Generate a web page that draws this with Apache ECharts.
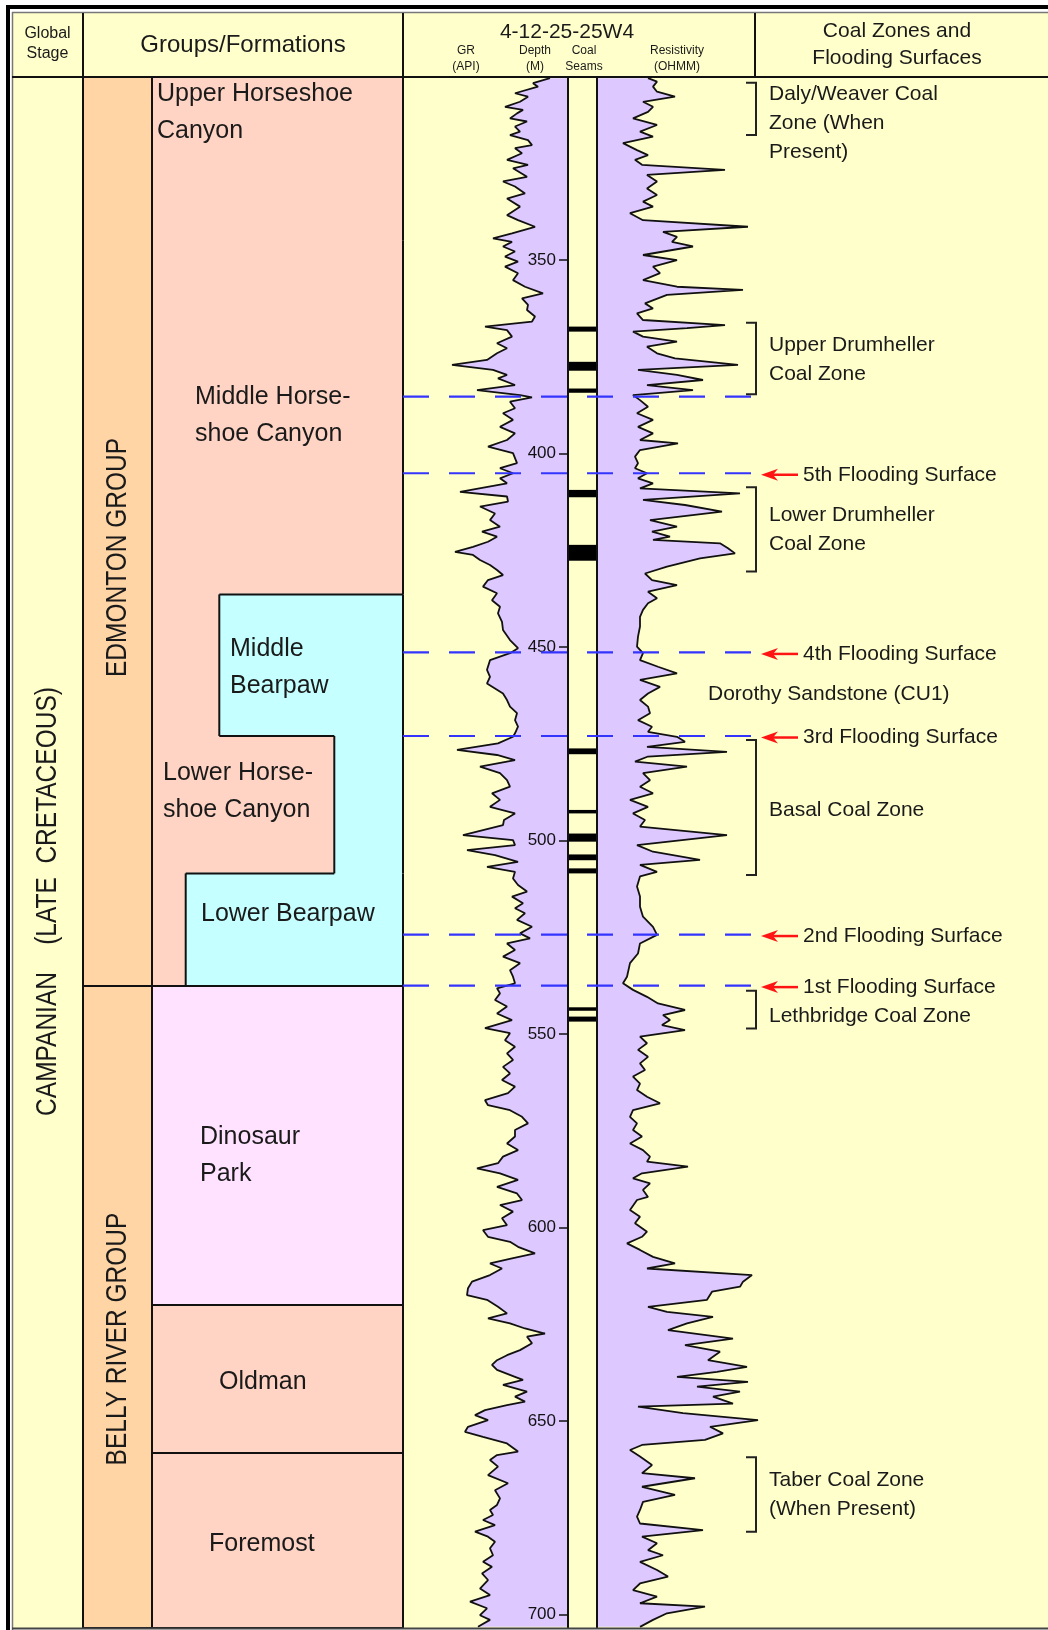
<!DOCTYPE html>
<html>
<head>
<meta charset="utf-8">
<script src="https://cdn.jsdelivr.net/npm/echarts/dist/echarts.min.js"></script>
<style>html,body{margin:0;padding:0;background:#fff}#c{width:1048px;height:1630px}</style>
</head>
<body>
<div id="c"></div>
<script>
// ================= DATA =================
const depthTicks = [350, 400, 450, 500, 550, 600, 650, 700];
const depthRange = [302.7, 703.5];

// Gamma ray log: [depth m, GR API]
const grLog = [
[303.0,147],[304.3,130],[305.2,135],[306.9,112],[307.8,125],[309.1,117],[310.4,102],[311.2,120],[312.1,114],[313.4,107],
[314.2,124],[315.5,112],[316.8,117],[317.7,107],[319.0,125],[320.3,129],[321.1,112],[322.4,119],[324.1,104],[325.4,125],
[326.3,110],[328.5,124],[329.7,100],[331.0,112],[332.8,122],[334.1,104],[336.2,117],[338.4,104],[339.7,115],[341.4,132],
[343.1,109],[344.4,90],[345.3,109],[346.5,100],[347.8,112],[349.1,102],[350.4,115],[351.7,102],[353.4,115],[355.2,110],
[356.9,122],[358.6,140],[359.9,119],[361.6,125],[362.9,124],[364.6,132],[365.9,129],[367.2,82],[368.1,104],[369.8,109],
[371.5,94],[372.8,104],[374.1,94],[375.8,84],[377.1,49],[378.4,90],[379.7,104],[380.6,95],[382.3,112],[383.6,74],
[384.9,117],[385.5,129],[386.6,107],[388.3,112],[389.6,100],[391.3,110],[393.1,97],[394.8,112],[396.5,104],[398.2,85],
[399.9,110],[402.5,114],[403.8,97],[405.1,110],[406.4,97],[407.7,104],[409.9,57],[411.1,104],[412.4,105],[413.7,77],
[415.5,92],[417.2,87],[418.9,97],[420.2,79],[421.5,94],[422.8,85],[424.1,70],[425.4,52],[426.2,70],[427.5,77],
[428.8,87],[430.1,94],[431.4,100],[432.7,85],[434.4,80],[436.1,94],[437.9,89],[439.6,97],[441.3,95],[443.5,99],
[445.6,100],[448.2,107],[450.3,115],[451.6,107],[453.4,87],[455.9,84],[457.7,87],[459.4,84],[462.0,100],[463.7,104],
[465.4,107],[467.1,114],[468.9,112],[470.6,115],[472.3,112],[473.2,110],[474.9,95],[476.6,54],[477.9,94],[479.2,112],
[480.9,77],[482.6,97],[484.4,104],[486.1,107],[487.8,89],[489.5,97],[491.3,87],[493.0,112],[494.7,101],[496.0,100],
[498.6,60],[499.9,110],[501.2,112],[502.5,64],[503.8,92],[505.5,115],[506.8,84],[508.1,112],[509.8,110],[511.5,115],
[513.2,124],[514.5,109],[516.2,120],[517.5,112],[518.8,122],[520.5,114],[522.3,129],[524.0,117],[525.3,127],[526.6,104],
[528.3,112],[530.0,100],[531.7,117],[533.5,107],[535.2,110],[536.9,112],[538.2,94],[539.5,97],[541.2,92],[542.9,104],
[544.7,94],[546.4,109],[548.5,82],[549.8,107],[551.6,102],[553.3,112],[555.0,104],[556.7,110],[558.5,100],[560.2,107],
[561.9,99],[563.6,112],[565.3,105],[567.1,82],[568.4,85],[569.7,107],[571.4,119],[573.1,125],[574.8,112],[576.5,112],
[578.3,104],[580.0,115],[581.7,100],[583.4,95],[584.7,74],[586.0,97],[587.7,115],[589.5,94],[591.2,114],[592.9,119],
[594.2,97],[595.9,110],[597.6,99],[599.4,104],[600.7,80],[602.4,85],[603.7,107],[605.0,115],[606.7,132],[608.0,109],
[609.3,87],[610.6,99],[612.3,87],[614.0,69],[615.7,65],[617.5,64],[618.7,84],[620.5,95],[622.2,104],[623.5,85],
[624.8,107],[626.1,122],[627.4,142],[628.2,124],[629.9,129],[631.7,117],[633.0,104],[634.3,94],[635.5,89],[636.8,94],
[638.6,112],[639.4,120],[640.7,100],[642.4,124],[643.7,112],[645.0,122],[645.9,104],[647.2,82],[648.5,72],[649.8,85],
[651.5,65],[652.8,62],[654.1,80],[655.8,104],[657.9,115],[658.8,94],[660.1,87],[661.8,95],[664.0,85],[666.1,105],
[667.9,92],[670.0,97],[671.7,94],[673.0,87],[674.3,90],[675.6,80],[676.9,92],[678.6,72],[679.9,85],[681.2,92],
[682.9,87],[684.7,90],[686.4,80],[687.7,89],[689.4,79],[691.1,85],[693.3,77],[695.0,87],[696.7,67],[698.4,84],
[700.2,77],[701.4,87],[703.2,75]
];

// Resistivity log: [depth m, OHMM]
const resLog = [
[303.0,51],[303.9,60],[305.2,56],[306.5,60],[307.8,78],[309.1,46],[310.4,56],[311.7,51],[313.4,36],[315.1,60],
[316.8,43],[318.1,56],[319.8,26],[321.6,40],[322.9,51],[324.1,38],[325.4,45],[326.7,128],[328.0,50],[329.7,60],
[331.5,50],[333.2,60],[334.9,46],[336.2,56],[337.9,33],[339.7,46],[341.4,151],[342.7,66],[344.0,80],[345.3,75],
[346.5,96],[348.7,46],[350.0,80],[351.7,56],[353.4,63],[355.2,46],[356.9,80],[357.7,146],[359.0,70],[361.2,48],
[362.5,56],[363.8,40],[365.5,46],[366.8,128],[367.6,90],[368.5,36],[369.8,46],[371.1,80],[372.4,50],[374.1,60],
[375.4,78],[377.1,141],[378.4,41],[379.7,80],[381.0,106],[382.3,50],[383.6,96],[384.9,36],[386.2,43],[387.9,51],
[389.6,40],[391.3,56],[393.1,41],[394.8,56],[396.5,43],[397.4,81],[399.1,43],[400.8,38],[402.5,41],[403.8,38],
[405.1,50],[406.4,41],[407.7,56],[409.0,43],[410.3,143],[412.0,46],[413.3,88],[415.0,125],[417.2,53],[418.9,80],
[420.2,55],[421.5,73],[422.3,56],[423.2,123],[424.5,131],[425.8,138],[427.1,103],[429.2,70],[431.0,48],[432.7,55],
[434.0,80],[435.7,51],[437.4,60],[438.7,51],[440.4,46],[442.2,43],[444.7,43],[447.3,41],[449.9,40],[451.6,46],
[453.4,43],[455.1,61],[456.8,80],[458.5,43],[460.3,63],[462.0,51],[463.7,43],[465.4,51],[467.1,53],[468.9,41],
[470.6,55],[471.9,51],[473.2,80],[474.5,88],[475.8,50],[477.1,130],[478.3,51],[479.6,38],[480.9,90],[482.6,46],
[484.4,53],[486.1,43],[487.8,56],[489.5,33],[491.3,51],[493.0,36],[494.7,48],[496.4,43],[498.6,130],[501.2,40],
[502.9,56],[505.0,103],[506.3,43],[508.1,60],[509.3,43],[511.9,40],[514.5,43],[517.1,43],[519.7,46],[522.3,56],
[524.4,60],[526.6,43],[529.2,41],[531.7,33],[535.2,30],[536.9,26],[538.6,36],[540.4,50],[542.1,61],[543.8,88],
[545.1,66],[546.4,73],[547.7,65],[549.0,88],[550.7,43],[552.4,50],[554.1,41],[555.9,51],[557.6,43],[559.3,48],
[561.0,36],[562.8,43],[564.5,40],[566.2,50],[567.9,63],[569.7,36],[571.4,33],[573.1,40],[574.8,36],[576.5,45],
[578.3,33],[580.0,46],[581.7,53],[583.0,50],[584.3,91],[586.0,45],[587.3,36],[588.6,53],[590.3,46],[592.1,51],
[592.9,40],[595.5,33],[597.2,43],[598.9,38],[601.1,50],[602.4,45],[604.1,30],[605.8,43],[607.6,56],[609.3,78],
[610.6,50],[612.3,155],[614.0,146],[615.3,143],[616.6,115],[618.7,110],[620.5,51],[621.8,70],[623.1,116],[624.8,90],
[626.5,71],[628.7,136],[630.4,88],[632.1,123],[634.3,111],[636.0,150],[637.3,120],[638.6,80],[639.9,151],[641.1,100],
[642.4,143],[643.7,116],[645.5,136],[646.3,41],[648.0,86],[649.8,161],[651.5,113],[653.2,126],[654.9,108],[656.2,45],
[657.5,33],[659.2,43],[661.4,55],[663.5,45],[664.8,98],[667.0,45],[669.1,78],[670.9,46],[673.0,43],[674.7,40],
[676.5,43],[678.2,106],[679.9,45],[681.6,60],[683.4,51],[684.7,66],[686.4,43],[688.5,60],[690.2,71],[692.0,43],
[693.7,36],[695.4,60],[697.1,43],[698.0,108],[699.7,70],[701.4,56],[703.2,43]
];

// Coal seams (m)
const coalSeamTop  = [367.2, 376.3, 383.2, 409.4, 423.6, 476.2, 492.1, 498.2, 503.6, 507.2, 543.1, 545.5];
const coalSeamBase = [368.5, 378.6, 384.3, 411.3, 427.7, 477.7, 493.0, 500.3, 505.1, 508.5, 544.0, 546.8];

// Global stage
const stageNames = ['CAMPANIAN    (LATE  CRETACEOUS)'];
const stageTop = [302.7];
const stageBase = [703.5];

// Groups
const groupNames = ['EDMONTON GROUP', 'BELLY RIVER GROUP'];
const groupTop = [302.7, 537.6];
const groupBase = [537.6, 703.5];

// Formations
const formationNames = ['Upper Horseshoe Canyon', 'Middle Horseshoe Canyon', 'Middle Bearpaw', 'Lower Horseshoe Canyon',
  'Lower Bearpaw', 'Dinosaur Park', 'Oldman', 'Foremost'];
const formationTop  = [302.7, 345.0, 436.4, 473.0, 508.5, 537.6, 620.0, 658.3];
const formationBase = [345.0, 436.4, 473.0, 508.5, 537.6, 620.0, 658.3, 703.5];

// Surfaces (m)
const surfaceNames = ['', '5th Flooding Surface', '4th Flooding Surface', '3rd Flooding Surface', '2nd Flooding Surface', '1st Flooding Surface'];
const surfaceDepth = [385.3, 405.1, 451.4, 473.0, 524.3, 537.5];

// Coal zones (m)
const coalZoneNames = ['Daly/Weaver Coal Zone (When Present)', 'Upper Drumheller Coal Zone', 'Lower Drumheller Coal Zone',
  'Basal Coal Zone', 'Lethbridge Coal Zone', 'Taber Coal Zone (When Present)'];
const coalZoneTop  = [304.2, 366.2, 408.7, 474.0, 538.8, 659.4];
const coalZoneBase = [317.7, 384.7, 430.5, 508.9, 548.6, 678.6];

// Sand units
const unitNames = ['Dorothy Sandstone (CU1)'];
const unitTop = [451.4];
const unitBase = [473.0];

// ================= LAYOUT / STYLE =================
const FONT = "'Liberation Sans', Arial, Helvetica, sans-serif";
const C = { yellow:'#FFFFCC', pink:'#FFD4C4', orange:'#FFD5A6', cyan:'#C6FFFF', dino:'#FFE2FF',
  lav:'#DDC8FF', blue:'#3434FF', red:'#FF1414', ink:'#111111', text:'#1A1A1A' };
const COL = { stageL:12, stageR:83, groupR:152, formR:403, grR:568, coalR:597, resR:760, zoneR:755, right:1048 };
const TOP = 77, BOTTOM = 1628;
const GR_MAX = 165, RES_MAX = 163;

const formLayout = {
  'Upper Horseshoe Canyon':  { text:'Upper Horseshoe\nCanyon', x:157, dy:-46 },
  'Middle Horseshoe Canyon': { text:'Middle Horse-\nshoe Canyon', x:195, dy:-2 },
  'Middle Bearpaw':          { text:'Middle\nBearpaw', x:230, dy:2, cyanFrom:219.3, step:[219.3, 403] },
  'Lower Horseshoe Canyon':  { text:'Lower Horse-\nshoe Canyon', x:163, dy:-13, cyanFrom:334.3, step:[219.3, 334.3] },
  'Lower Bearpaw':           { text:'Lower Bearpaw', x:201, dy:-16, cyanFrom:185.7, step:[185.7, 334.3] },
  'Dinosaur Park':           { text:'Dinosaur\nPark', x:200, dy:10, fill:C.dino, box:true },
  'Oldman':                  { text:'Oldman', x:219, dy:3, fill:C.pink, box:true },
  'Foremost':                { text:'Foremost', x:209, dy:4, fill:C.pink, box:true }
};
const groupLabelDy = [26, 32];
const stageLabelDy = 49;
const zoneLayout = [
  { text:'Daly/Weaver Coal\nZone (When\nPresent)', dy:14 },
  { text:'Upper Drumheller\nCoal Zone', dy:1.5 },
  { text:'Lower Drumheller\nCoal Zone', dy:0 },
  { text:'Basal Coal Zone', dy:2.5 },
  { text:'Lethbridge Coal Zone', dy:7 },
  { text:'Taber Coal Zone\n(When Present)', dy:0 }
];

function txt(x, y, text, size, o) {
  o = o || {};
  return {
    type:'text', x:x, y:y, rotation:o.rotation || 0, scaleX:o.scaleX || 1, scaleY:o.scaleY || 1, z2:20, z:o.z,
    style:{ text:text, fill:o.fill || C.text, font:size + 'px ' + FONT, fontSize:size, fontFamily:FONT,
      textAlign:o.align || 'left', align:o.align || 'left', textVerticalAlign:'middle', verticalAlign:'middle',
      lineHeight:o.lh || Math.round(size * 1.2), textLineHeight:o.lh || Math.round(size * 1.2) }
  };
}
// fills overlap by a pixel so that touching fills of the same colour show no seam
function rectEl(x1, y1, x2, y2, fill) {
  return { type:'rect', shape:{ x:x1 - 0.5, y:y1 - 0.75, width:x2 - x1 + 1, height:y2 - y1 + 1.5 }, style:{ fill:fill }, z2:0 };
}
function lineEl(x1, y1, x2, y2, stroke, w, dash) {
  const s = { stroke:stroke || C.ink, lineWidth:w || 2 };
  if (dash) s.lineDash = dash;
  return { type:'line', shape:{ x1:x1, y1:y1, x2:x2, y2:y2 }, style:s, z2:10 };
}

const grData = grLog.map(p => [p[1], p[0]]);
const resData = resLog.map(p => [p[1], p[0]]);

const chart = echarts.init(document.getElementById('c'), null, { renderer:'canvas', width:1048, height:1630 });

const yBase = { type:'value', inverse:true, min:depthRange[0], max:depthRange[1], show:false };
const gridBase = { top:TOP, height:BOTTOM - TOP, outerBoundsMode:'none', containLabel:false };

const option = {
  backgroundColor:'#ffffff',
  animation:false,
  grid:[
    Object.assign({ left:COL.stageL, width:COL.right - COL.stageL }, gridBase),
    Object.assign({ left:COL.formR, width:COL.grR - COL.formR }, gridBase),
    Object.assign({ left:COL.coalR, width:COL.resR - COL.coalR }, gridBase)
  ],
  xAxis:[
    { type:'value', gridIndex:0, min:COL.stageL, max:COL.right, show:false },
    { type:'value', gridIndex:1, min:0, max:GR_MAX, show:false },
    { type:'value', gridIndex:2, min:0, max:RES_MAX, show:false }
  ],
  yAxis:[
    Object.assign({ gridIndex:0 }, yBase),
    { type:'value', gridIndex:1, inverse:true, min:depthRange[0], max:depthRange[1], position:'right', z:6,
      axisLine:{ show:true, onZero:false, lineStyle:{ color:C.ink, width:2 } },
      axisTick:{ show:true, inside:true, length:9, customValues:depthTicks, lineStyle:{ color:C.ink, width:1.5 } },
      axisLabel:{ show:true, inside:true, margin:12, customValues:depthTicks, color:'#111', fontSize:17, fontFamily:FONT },
      splitLine:{ show:false } },
    { type:'value', gridIndex:2, inverse:true, min:depthRange[0], max:depthRange[1], position:'left', z:6,
      axisLine:{ show:true, onZero:false, lineStyle:{ color:C.ink, width:2 } },
      axisTick:{ show:false }, axisLabel:{ show:false }, splitLine:{ show:false } }
  ],
  graphic:[
    { type:'rect', shape:{ x:12, y:12, width:1036, height:1617 }, style:{ fill:C.yellow }, z:-10 },
    // frame
    { type:'rect', shape:{ x:6, y:5, width:4, height:1625 }, style:{ fill:'#000' }, z:50 },
    { type:'rect', shape:{ x:6, y:5, width:1042, height:4 }, style:{ fill:'#000' }, z:50 },
    { type:'line', shape:{ x1:12.5, y1:12, x2:12.5, y2:1630 }, style:{ stroke:'#777', lineWidth:1.5 }, z:50 },
    { type:'line', shape:{ x1:12, y1:12.5, x2:1048, y2:12.5 }, style:{ stroke:'#777', lineWidth:1.5 }, z:50 },
    { type:'line', shape:{ x1:12, y1:1628.5, x2:1048, y2:1628.5 }, style:{ stroke:'#444', lineWidth:2 }, z:50 },
    // header grid
    { type:'line', shape:{ x1:12, y1:77, x2:1048, y2:77 }, style:{ stroke:C.ink, lineWidth:2 }, z:50 },
    { type:'line', shape:{ x1:83, y1:13, x2:83, y2:77 }, style:{ stroke:C.ink, lineWidth:2 }, z:50 },
    { type:'line', shape:{ x1:403, y1:13, x2:403, y2:77 }, style:{ stroke:C.ink, lineWidth:2 }, z:50 },
    { type:'line', shape:{ x1:755, y1:13, x2:755, y2:77 }, style:{ stroke:C.ink, lineWidth:2 }, z:50 },
    // header texts
    txt(47.5, 44, 'Global\nStage', 16, { align:'center', lh:20, z:50 }),
    txt(243, 45, 'Groups/Formations', 24, { align:'center', z:50 }),
    txt(567, 32, '4-12-25-25W4', 21, { align:'center', z:50 }),
    txt(466, 59, 'GR\n(API)', 12, { align:'center', lh:16, z:50 }),
    txt(535, 59, 'Depth\n(M)', 12, { align:'center', lh:16, z:50 }),
    txt(584, 59, 'Coal\nSeams', 12, { align:'center', lh:16, z:50 }),
    txt(677, 59, 'Resistivity\n(OHMM)', 12, { align:'center', lh:16, z:50 }),
    txt(897, 45, 'Coal Zones and\nFlooding Surfaces', 21, { align:'center', lh:27, z:50 })
  ],
  series:[
    // ---- global stage
    { type:'custom', xAxisIndex:0, yAxisIndex:0, z:2,
      data: stageNames.map((n, i) => [stageTop[i], stageBase[i]]),
      renderItem(params, api) {
        const yc = api.coord([COL.stageL, (api.value(0) + api.value(1)) / 2])[1] + stageLabelDy;
        const xc = (api.coord([COL.stageL, 0])[0] + api.coord([COL.stageR, 0])[0]) / 2;
        return { type:'group', children:[
          txt(xc, yc, stageNames[params.dataIndex], 24.5, { align:'center', rotation:Math.PI / 2, scaleY:1.2 })
        ]};
      } },
    // ---- groups
    { type:'custom', xAxisIndex:0, yAxisIndex:0, z:2,
      data: groupNames.map((n, i) => [groupTop[i], groupBase[i]]),
      renderItem(params, api) {
        const i = params.dataIndex;
        const x1 = api.coord([COL.stageR, 0])[0], x2 = api.coord([COL.groupR, 0])[0];
        const yt = api.coord([0, api.value(0)])[1], yb = api.coord([0, api.value(1)])[1];
        return { type:'group', children:[
          rectEl(x1, yt, x2, yb, C.orange),
          lineEl(x1, yt, x1, yb), lineEl(x2, yt, x2, yb), lineEl(x1, yt, x2, yt), lineEl(x1, yb, x2, yb),
          txt((x1 + x2) / 2, (yt + yb) / 2 + groupLabelDy[i], groupNames[i], 24.5, { align:'center', rotation:Math.PI / 2, scaleY:1.2 })
        ]};
      } },
    // ---- formations
    { type:'custom', xAxisIndex:0, yAxisIndex:0, z:2,
      data: formationNames.map((n, i) => [formationTop[i], formationBase[i]]),
      renderItem(params, api) {
        const i = params.dataIndex, name = formationNames[i], L = formLayout[name];
        const yt = api.coord([0, api.value(0)])[1], yb = api.coord([0, api.value(1)])[1];
        const xL = api.coord([COL.groupR, 0])[0], xR = api.coord([COL.formR, 0])[0];
        const ch = [];
        if (L.cyanFrom != null) {
          const xc = api.coord([L.cyanFrom, 0])[0];
          ch.push(rectEl(xL, yt, xc, yb, C.pink));
          ch.push(rectEl(xc, yt, xR, yb, C.cyan));
          ch.push(lineEl(xc, yt, xc, yb));
          ch.push(lineEl(api.coord([L.step[0], 0])[0], yt, api.coord([L.step[1], 0])[0], yt));
        } else {
          ch.push(rectEl(xL, yt, xR, yb, L.fill || C.pink));
          if (L.box) { ch.push(lineEl(xL, yt, xR, yt)); ch.push(lineEl(xL, yb, xR, yb)); }
        }
        ch.push(lineEl(xR, yt, xR, yb));
        ch.push(txt(api.coord([L.x, 0])[0], (yt + yb) / 2 + L.dy, L.text, 25, { lh:37 }));
        return { type:'group', children:ch };
      } },
    // ---- GR fill
    { type:'custom', xAxisIndex:1, yAxisIndex:1, z:2, data:grData,
      renderItem(params, api) {
        if (params.dataIndex !== 0) return null;
        const pts = grData.map(p => api.coord(p));
        const xe = api.coord([GR_MAX, depthRange[0]])[0];
        pts.push([xe, pts[pts.length - 1][1]]);
        pts.push([xe, pts[0][1]]);
        return { type:'polygon', shape:{ points:pts }, style:{ fill:C.lav } };
      } },
    // ---- Resistivity fill
    { type:'custom', xAxisIndex:2, yAxisIndex:2, z:2, data:resData,
      renderItem(params, api) {
        if (params.dataIndex !== 0) return null;
        const pts = resData.map(p => api.coord(p));
        const xe = api.coord([0, depthRange[0]])[0];
        pts.push([xe, pts[pts.length - 1][1]]);
        pts.push([xe, pts[0][1]]);
        return { type:'polygon', shape:{ points:pts }, style:{ fill:C.lav } };
      } },
    // ---- curves
    { type:'line', xAxisIndex:1, yAxisIndex:1, z:3, data:grData, showSymbol:false, symbol:'none', clip:false,
      lineStyle:{ color:C.ink, width:1.8 }, silent:true },
    { type:'line', xAxisIndex:2, yAxisIndex:2, z:3, data:resData, showSymbol:false, symbol:'none', clip:false,
      lineStyle:{ color:C.ink, width:1.8 }, silent:true },
    // ---- coal seams
    { type:'custom', xAxisIndex:0, yAxisIndex:0, z:3,
      data: coalSeamTop.map((t, i) => [t, coalSeamBase[i]]),
      renderItem(params, api) {
        const yt = api.coord([0, api.value(0)])[1], yb = api.coord([0, api.value(1)])[1];
        const x1 = api.coord([COL.grR, 0])[0], x2 = api.coord([COL.coalR, 0])[0];
        return { type:'rect', shape:{ x:x1, y:yt, width:x2 - x1, height:Math.max(yb - yt, 3) }, style:{ fill:'#000' } };
      } },
    // ---- flooding surfaces
    { type:'custom', xAxisIndex:0, yAxisIndex:0, z:7,
      data: surfaceDepth.map(d => [d]),
      renderItem(params, api) {
        const i = params.dataIndex;
        const y = api.coord([0, api.value(0)])[1];
        const x1 = api.coord([COL.formR, 0])[0], x2 = api.coord([COL.zoneR, 0])[0];
        const ch = [lineEl(x1, y, x2, y, C.blue, 2.2, [26, 20])];
        if (surfaceNames[i]) {
          const yy = y + 1.5;
          ch.push(lineEl(771, yy, 798, yy, C.red, 2.5));
          ch.push({ type:'polygon', shape:{ points:[[761, yy], [778, yy - 6], [773, yy], [778, yy + 6]] }, style:{ fill:C.red }, z2:12 });
          ch.push(txt(803, yy, surfaceNames[i], 21));
        }
        return { type:'group', children:ch };
      } },
    // ---- coal zones
    { type:'custom', xAxisIndex:0, yAxisIndex:0, z:7,
      data: coalZoneNames.map((n, i) => [coalZoneTop[i], coalZoneBase[i]]),
      renderItem(params, api) {
        const i = params.dataIndex;
        const yt = api.coord([0, api.value(0)])[1], yb = api.coord([0, api.value(1)])[1];
        return { type:'group', children:[
          { type:'polyline', shape:{ points:[[746, yt], [756, yt], [756, yb], [746, yb]] }, style:{ stroke:'#222', lineWidth:2, fill:null }, z2:10 },
          txt(769, (yt + yb) / 2 + zoneLayout[i].dy, zoneLayout[i].text, 21, { lh:29 })
        ]};
      } },
    // ---- sand units
    { type:'custom', xAxisIndex:0, yAxisIndex:0, z:7,
      data: unitNames.map((n, i) => [unitTop[i], unitBase[i]]),
      renderItem(params, api) {
        const yt = api.coord([0, api.value(0)])[1], yb = api.coord([0, api.value(1)])[1];
        return txt(708, (yt + yb) / 2, unitNames[params.dataIndex], 21);
      } }
  ]
};
chart.setOption(option);
</script>
</body>
</html>
